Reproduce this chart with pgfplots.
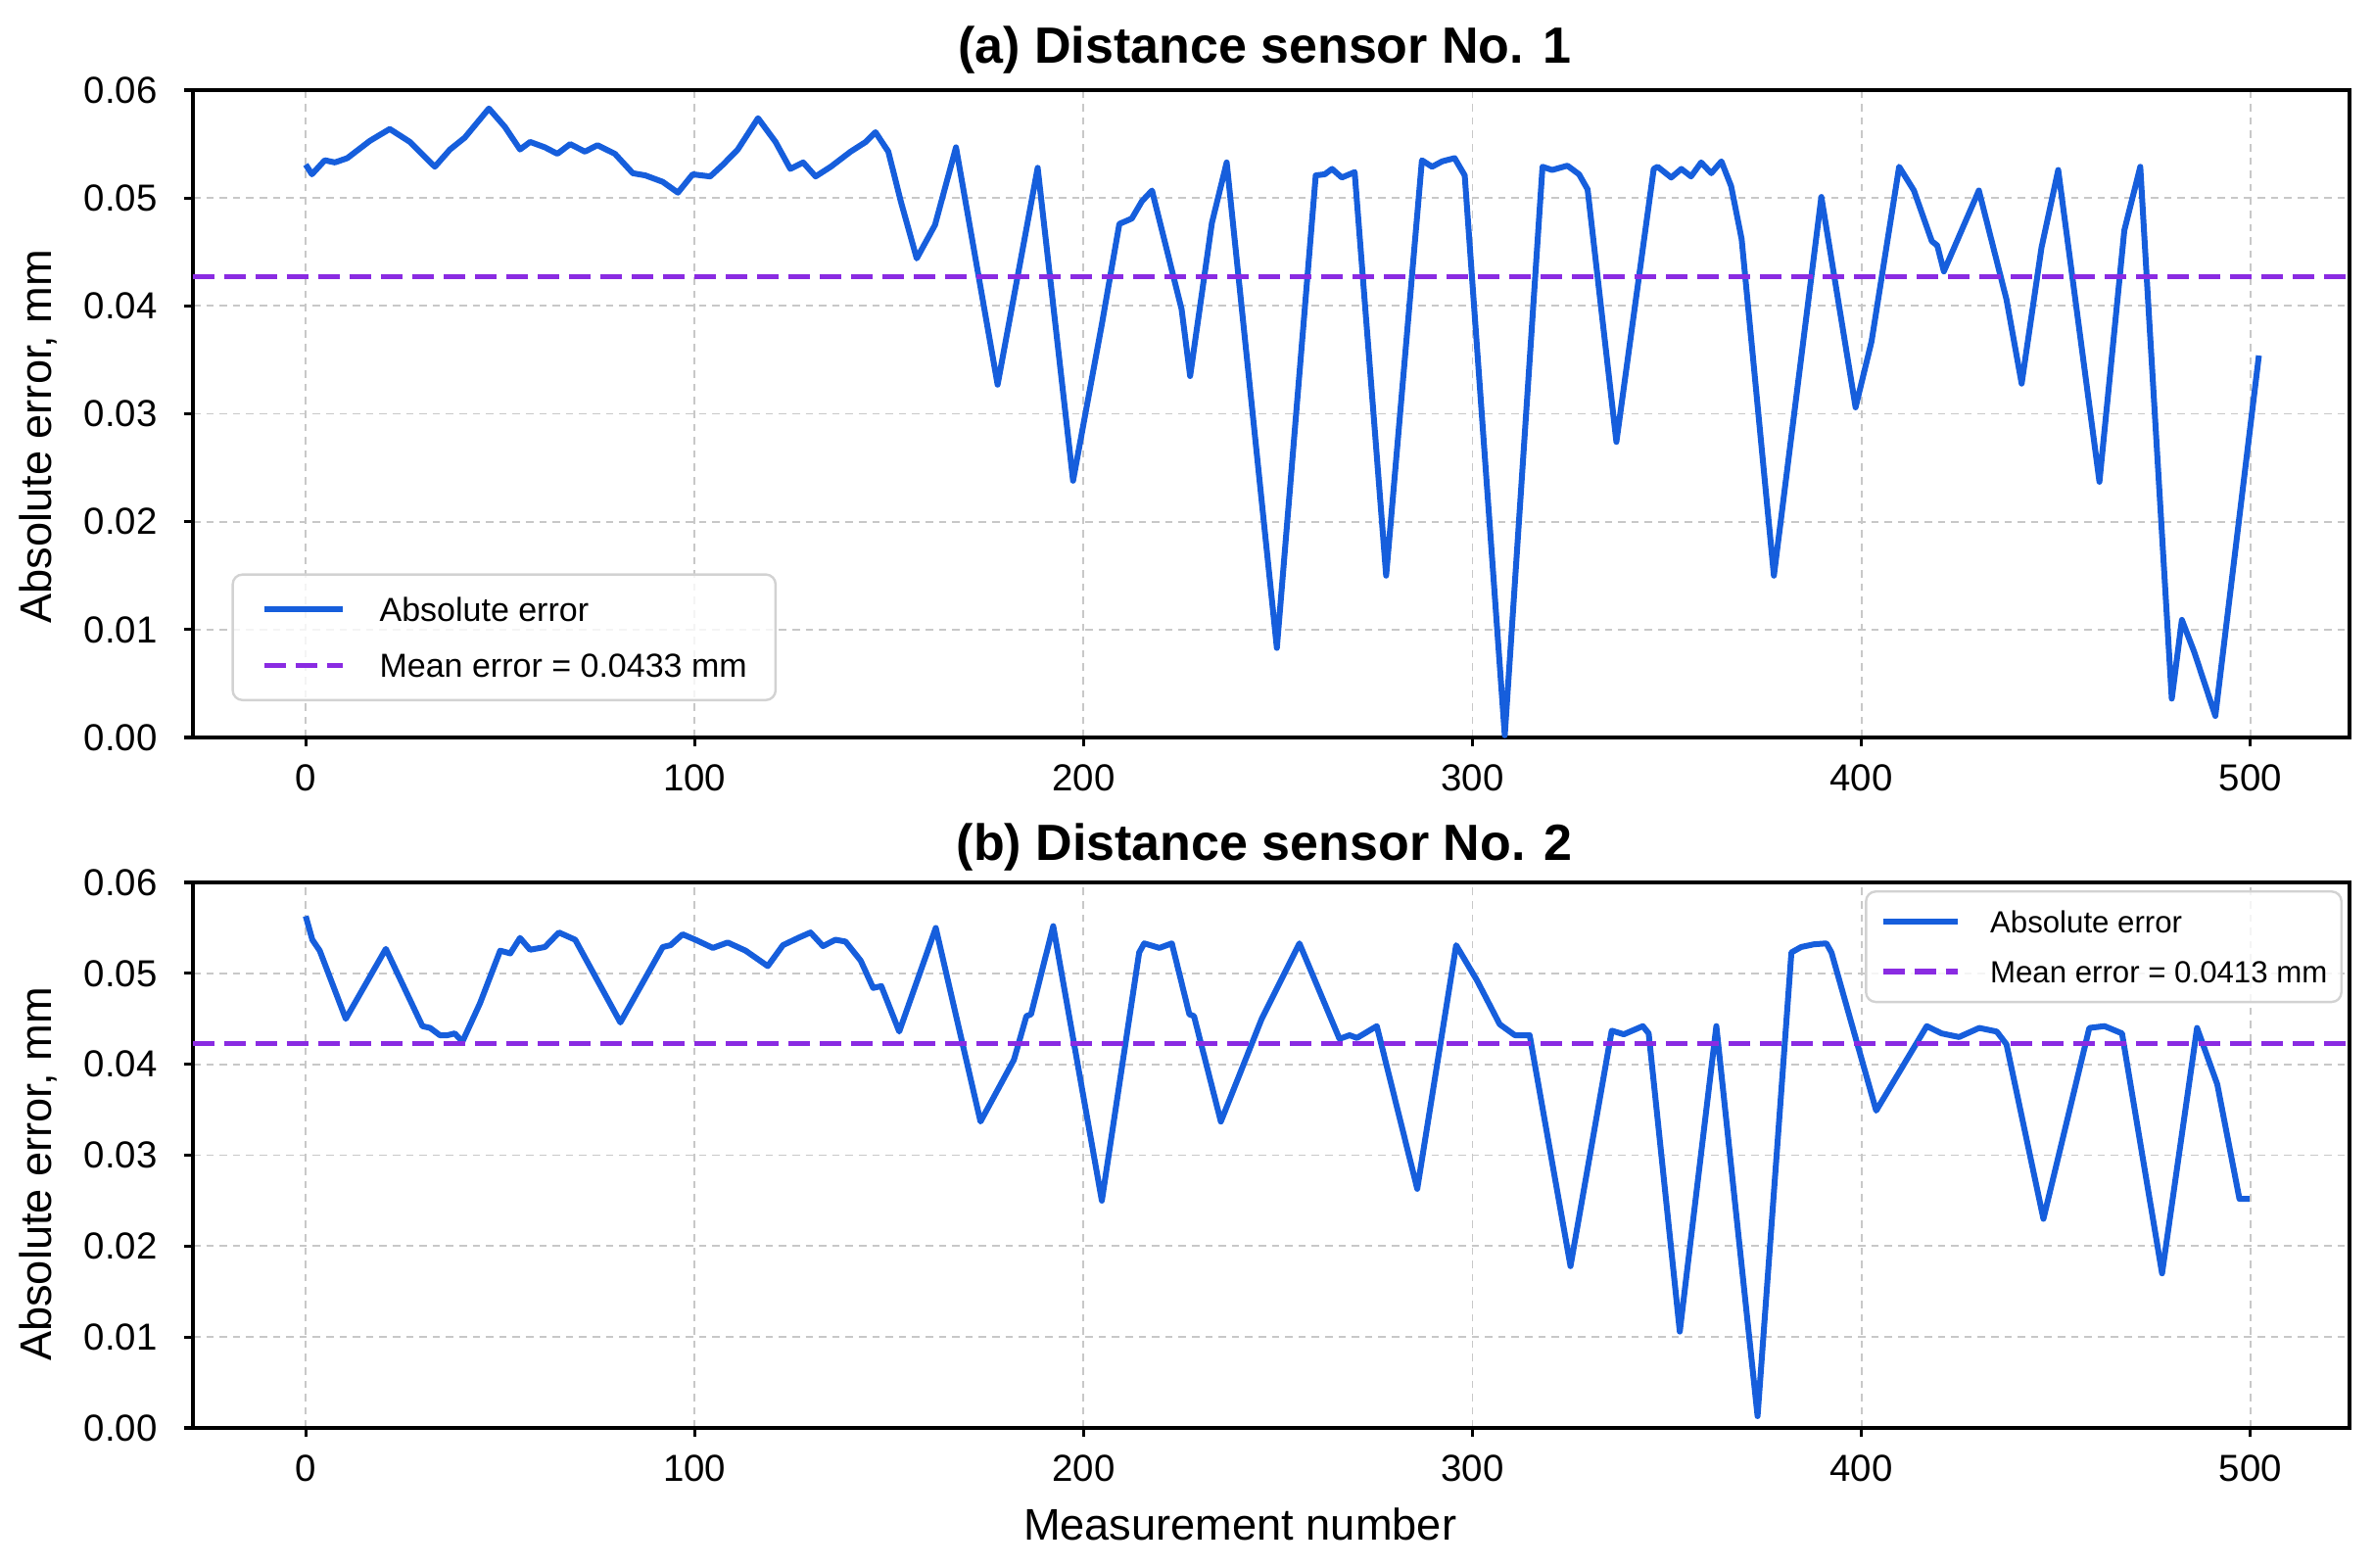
\documentclass[border=0pt]{standalone}
\usepackage{fontspec}
\setmainfont{Liberation Sans}
\usepackage{pgfplots}
\usepackage{pgfplotstable}
\pgfplotsset{compat=1.18}
\definecolor{lineblue}{RGB}{22,94,220}
\definecolor{meanviolet}{RGB}{138,43,226}
\definecolor{gridgray}{RGB}{200,200,200}

\pgfplotstableread{
x y
0 0.0531
1.6 0.0522
4.9 0.0535
7.5 0.0533
10.7 0.0537
16.5 0.0553
21.6 0.0564
26.8 0.0552
33.2 0.0529
37.1 0.0545
40.9 0.0556
47.1 0.0583
51.2 0.0566
55.1 0.0545
57.7 0.0552
61.5 0.0547
64.7 0.0541
68.0 0.0550
71.8 0.0543
75.0 0.0549
79.5 0.0541
84.1 0.0523
87.3 0.0521
91.8 0.0515
95.7 0.0505
99.5 0.0522
104.0 0.0520
107.3 0.0531
111.1 0.0545
116.3 0.0574
120.8 0.0552
124.6 0.0527
127.9 0.0533
131.1 0.0520
135.0 0.0529
140.1 0.0543
144.0 0.0552
146.5 0.0561
149.8 0.0543
153.0 0.0497
157.1 0.0444
161.8 0.0475
167.2 0.0547
177.9 0.0327
188.2 0.0528
197.3 0.0238
204.7 0.0383
209.2 0.0476
212.4 0.0481
215.0 0.0497
217.6 0.0507
225.2 0.0397
227.4 0.0335
233.0 0.0477
236.8 0.0533
249.7 0.0083
259.7 0.0521
262.0 0.0522
263.9 0.0527
266.4 0.0519
269.7 0.0524
277.8 0.0150
287.0 0.0535
289.6 0.0529
292.2 0.0534
295.4 0.0537
298.0 0.0521
308.3 0.0002
318.0 0.0529
320.5 0.0526
324.4 0.0530
327.4 0.0522
329.6 0.0508
337.0 0.0274
346.6 0.0527
347.6 0.0529
351.1 0.0519
353.7 0.0527
356.2 0.0520
358.8 0.0533
361.4 0.0523
364.0 0.0534
366.5 0.0511
369.2 0.0462
377.5 0.0150
389.7 0.0501
398.5 0.0306
402.6 0.0367
409.7 0.0529
413.5 0.0507
418.1 0.0460
419.5 0.0456
421.2 0.0432
430.2 0.0507
437.3 0.0406
441.2 0.0328
446.3 0.0454
450.6 0.0526
461.2 0.0237
467.6 0.0470
471.7 0.0529
474.0 0.0387
479.8 0.0036
482.4 0.0109
485.6 0.0079
491.0 0.0020
502.2 0.0354
}\dataA

\pgfplotstableread{
x y
0 0.0563
1.7 0.0537
3.6 0.0525
10.3 0.0450
20.6 0.0527
30.0 0.0442
32.0 0.0440
34.5 0.0432
36.5 0.0432
38.3 0.0434
40.3 0.0425
44.8 0.0467
50.0 0.0525
52.6 0.0522
55.1 0.0539
57.7 0.0526
61.5 0.0529
65.1 0.0545
69.3 0.0537
80.9 0.0446
91.8 0.0529
93.8 0.0531
96.9 0.0543
100.2 0.0537
104.7 0.0528
108.5 0.0534
113.1 0.0525
118.8 0.0508
122.7 0.0531
126.6 0.0539
129.8 0.0545
133.0 0.0530
136.2 0.0537
138.8 0.0535
142.7 0.0514
145.9 0.0484
148.0 0.0486
152.6 0.0436
162.0 0.0550
173.5 0.0337
182.1 0.0405
185.3 0.0453
186.5 0.0455
192.2 0.0552
204.7 0.0250
214.3 0.0523
215.6 0.0533
219.5 0.0528
222.7 0.0533
227.2 0.0455
228.4 0.0453
235.3 0.0337
245.8 0.0450
255.5 0.0533
265.8 0.0428
268.4 0.0432
270.3 0.0429
275.4 0.0442
285.8 0.0263
295.8 0.0531
301.2 0.0492
307.0 0.0444
310.9 0.0432
314.7 0.0432
325.2 0.0178
335.8 0.0437
338.9 0.0433
343.8 0.0442
345.3 0.0434
353.3 0.0106
362.7 0.0442
373.3 0.0013
382.0 0.0523
384.5 0.0529
387.8 0.0532
391.0 0.0533
392.3 0.0523
403.8 0.0349
416.8 0.0442
420.6 0.0434
425.1 0.0430
430.3 0.0440
434.8 0.0436
437.3 0.0422
446.8 0.0230
458.6 0.0440
462.5 0.0442
467.0 0.0434
477.3 0.0170
486.3 0.0440
491.5 0.0378
497.2 0.0252
499.8 0.0252
}\dataB

\pgfplotsset{
  myaxis/.style={
    scale only axis, width=550.5pt,
    xmin=-29, xmax=525.5, ymin=0, ymax=0.06,
    xtick={0,100,200,300,400,500},
    ytick={0,0.01,0.02,0.03,0.04,0.05,0.06},
    /pgf/number format/assume math mode=true,
    yticklabel style={/pgf/number format/fixed, /pgf/number format/fixed zerofill, /pgf/number format/precision=2, xshift=-3.3pt},
    xticklabel style={yshift=-1pt},
    scaled y ticks=false,
    tick align=outside, tick pos=left,
    major tick length=2.3pt,
    tick style={black, line width=0.8pt},
    axis line style={line width=0.95pt},
    grid=major,
    major grid style={gridgray, line width=0.45pt, dash pattern=on 1.9pt off 1.5pt},
    tick label style={font=\fontsize{9.6}{11}\selectfont},
    label style={font=\fontsize{11.3}{13}\selectfont},
    title style={font=\bfseries\fontsize{13}{15}\selectfont, anchor=base, at={(axis description cs:0.497,1)}},
    ylabel style={at={(axis description cs:-0.0718,0.465)}, anchor=center},
    ylabel={Absolute error, mm},
  }
}

\begin{document}
\begin{tikzpicture}
\path[use as bounding box] (0,0) rectangle (606pt,-400pt);

\begin{axis}[myaxis,
  at={(49.25pt,-188.25pt)}, anchor=south west,
  height=165.25pt,
  title={(a) Distance sensor No. 1},
  title style={yshift=1pt},
  legend image code/.code={\draw[#1] (0pt,0pt) -- (20pt,0pt);},
  legend style={at={(0.0179,0.056)}, anchor=south west,
    draw=gray!35, rounded corners=2.5pt, fill=white, fill opacity=0.8, text opacity=1, line width=0.6pt,
    font=\fontsize{8.5}{10}\selectfont,
    inner xsep=7.3pt, inner ysep=5.85pt, row sep=8.15pt, column sep=8.7pt,
    nodes={inner sep=0pt, text height=6.1pt, text depth=0pt}},
  legend cell align=left,
]
\addplot[lineblue, line width=1.5pt, line join=round] table[x=x,y=y] {\dataA};
\addlegendentry{Absolute error}
\addplot[meanviolet, line width=1.35pt, dash pattern=on 5.5pt off 2.5pt] coordinates {(-29,0.0427) (525.5,0.0427)};
\addlegendentry{Mean error = 0.0433 mm}
\end{axis}

\begin{axis}[myaxis,
  at={(49.25pt,-364.5pt)}, anchor=south west,
  height=139.25pt,
  title={(b) Distance sensor No. 2},
  title style={yshift=-0.25pt},
  xlabel={Measurement number},
  xlabel style={at={(axis description cs:0.4855,0)}, anchor=base, yshift=-28.5pt},
  legend image code/.code={\draw[#1] (0pt,0pt) -- (19pt,0pt);},
  legend style={at={(0.9968,0.9856)}, anchor=north east,
    draw=gray!35, rounded corners=2.5pt, fill=white, fill opacity=0.8, text opacity=1, line width=0.6pt,
    font=\fontsize{7.8}{9}\selectfont,
    inner xsep=3.6pt, inner ysep=5pt, row sep=7pt, column sep=7.6pt,
    nodes={inner sep=0pt, text height=5.6pt, text depth=0pt}},
  legend cell align=left,
]
\addplot[lineblue, line width=1.5pt, line join=round] table[x=x,y=y] {\dataB};
\addlegendentry{Absolute error}
\addplot[meanviolet, line width=1.35pt, dash pattern=on 5.5pt off 2.5pt] coordinates {(-29,0.0423) (525.5,0.0423)};
\addlegendentry{Mean error = 0.0413 mm}
\end{axis}
\end{tikzpicture}
\end{document}
